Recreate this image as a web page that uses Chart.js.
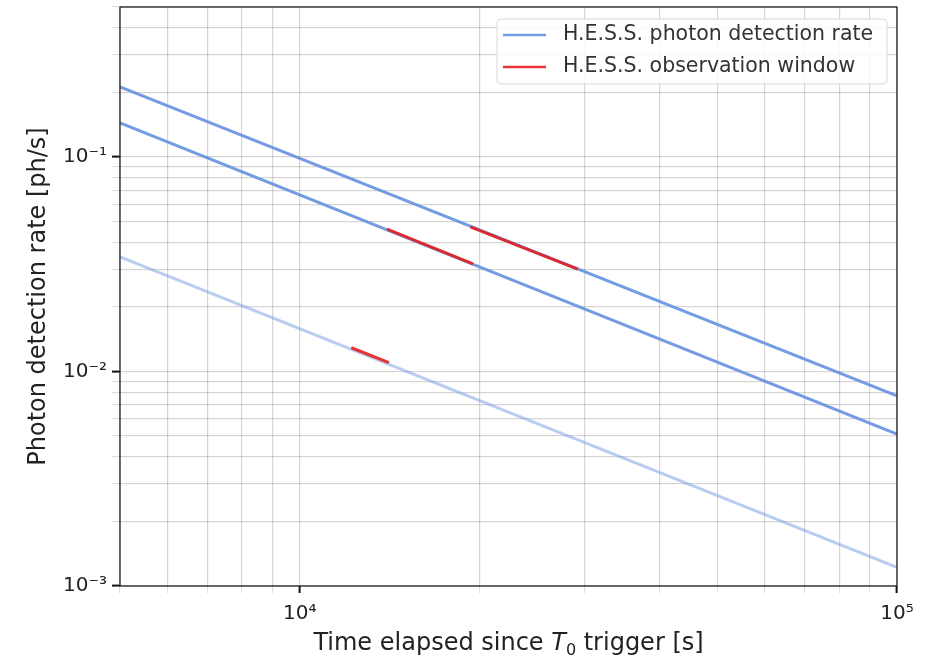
<!DOCTYPE html>
<html>
<head>
<meta charset="utf-8">
<script src="https://cdn.jsdelivr.net/npm/chart.js@4.4.1/dist/chart.umd.min.js"></script>
<style>
  html, body { margin: 0; padding: 0; background: #fff; }
  #wrap { width: 930px; height: 657px; }
</style>
</head>
<body>
<div id="wrap"><canvas id="rate"></canvas></div>
<script>
// time range of the curves [s]
const timeEdges = [5000, 100000];

// photon detection rate [ph/s] at the two edges, one per curve
const rateHigh = [0.212, 0.0077];
const rateMid = [0.144, 0.0051];
const rateLow = [0.0342, 0.00122];

// H.E.S.S. observation windows
const winHighT = [19300, 29200];
const winHighR = [0.0472, 0.0300];
const winMidT = [14000, 19500];
const winMidR = [0.0461, 0.0317];
const winLowT = [12200, 14100];
const winLowR = [0.0129, 0.0110];

// gridlines + labelled ticks
const xGrid = [5000, 6000, 7000, 8000, 9000, 10000, 20000, 30000, 40000, 50000, 60000, 70000, 80000, 90000, 100000];
const yGrid = [0.001, 0.002, 0.003, 0.004, 0.005, 0.006, 0.007, 0.008, 0.009,
               0.01, 0.02, 0.03, 0.04, 0.05, 0.06, 0.07, 0.08, 0.09, 0.1, 0.2, 0.3, 0.4, 0.5];
const xMajor = [10000, 100000];
const xLabels = ['10⁴', '10⁵'];
const yMajor = [0.001, 0.01, 0.1];
const yLabels = ['10⁻³', '10⁻²', '10⁻¹'];

const blue = 'rgba(100,145,225,0.9)';
const blueLight = 'rgba(100,145,225,0.45)';
const red = 'rgba(230,30,30,0.9)';

function pts(xs, ys) {
  return xs.map((x, i) => ({ x: x, y: ys[i] }));
}

function isMajor(list, v) {
  return list.some(m => Math.abs(m - v) / m < 1e-6);
}

const frame = {
  id: 'frame',
  afterDatasetsDraw(chart) {
    const a = chart.chartArea, c = chart.ctx;
    c.save();
    c.strokeStyle = '#222';
    c.lineWidth = 1.3;
    c.strokeRect(a.left, a.top, a.right - a.left, a.bottom - a.top);

    // legend inside the plot, top right
    const x0 = 497, y0 = 19, w = 390, h = 65;
    c.fillStyle = 'rgba(255,255,255,0.85)';
    c.strokeStyle = '#d8d8d8';
    c.lineWidth = 1;
    c.beginPath();
    c.roundRect(x0, y0, w, h, 4);
    c.fill();
    c.stroke();
    const items = [['H.E.S.S. photon detection rate', blue], ['H.E.S.S. observation window', red]];
    c.font = '20.5px "DejaVu Sans"';
    c.textBaseline = 'middle';
    items.forEach((it, i) => {
      const y = y0 + 16 + i * 32;
      c.strokeStyle = it[1];
      c.lineWidth = 2.5;
      c.beginPath();
      c.moveTo(x0 + 6, y);
      c.lineTo(x0 + 49, y);
      c.stroke();
      c.fillStyle = '#333';
      c.fillText(it[0], x0 + 66, y);
    });

    // x axis title with italic T and subscript 0
    const parts = [
      ['Time elapsed since ', '24px "DejaVu Sans"', 0],
      ['T', 'italic 24px "DejaVu Sans"', 0],
      ['0', '16px "DejaVu Sans"', 5],
      [' trigger [s]', '24px "DejaVu Sans"', 0]
    ];
    c.textBaseline = 'alphabetic';
    c.fillStyle = '#222';
    let total = 0;
    parts.forEach(p => { c.font = p[1]; total += c.measureText(p[0]).width; });
    let x = (a.left + a.right) / 2 - total / 2;
    const base = 650;
    parts.forEach(p => {
      c.font = p[1];
      c.fillText(p[0], x, base + p[2]);
      x += c.measureText(p[0]).width;
    });
    c.restore();
  }
};

function axisTicks(grid) {
  return function (scale) {
    scale.ticks = grid.map(v => ({ value: v }));
  };
}

new Chart(document.getElementById('rate'), {
  type: 'line',
  data: {
    datasets: [
      { label: 'H.E.S.S. photon detection rate', data: pts(timeEdges, rateHigh), borderColor: blue, borderWidth: 3, order: 2 },
      { label: 'rate mid', data: pts(timeEdges, rateMid), borderColor: blue, borderWidth: 3, order: 2 },
      { label: 'rate low', data: pts(timeEdges, rateLow), borderColor: blueLight, borderWidth: 3, order: 2 },
      { label: 'H.E.S.S. observation window', data: pts(winHighT, winHighR), borderColor: red, borderWidth: 3, order: 1 },
      { label: 'window mid', data: pts(winMidT, winMidR), borderColor: red, borderWidth: 3, order: 1 },
      { label: 'window low', data: pts(winLowT, winLowR), borderColor: red, borderWidth: 3, order: 1 }
    ]
  },
  options: {
    responsive: true,
    maintainAspectRatio: false,
    animation: false,
    layout: { padding: { top: 7, right: 33, left: 20, bottom: 0 } },
    elements: { point: { radius: 0 }, line: { tension: 0 } },
    plugins: {
      legend: { display: false },
      tooltip: { enabled: false }
    },
    scales: {
      x: {
        type: 'logarithmic',
        min: 5000,
        max: 100000,
        afterBuildTicks: axisTicks(xGrid),
        afterFit(scale) { scale.height = 71; scale.paddingLeft = 0; scale.paddingRight = 0; },
        border: { display: false },
        grid: {
          color: 'rgba(0,0,0,0.16)',
          lineWidth: 1.2,
          tickLength: 7,
          tickColor: ctx => isMajor(xMajor, ctx.tick.value) ? '#111' : 'rgba(0,0,0,0.15)',
          tickWidth: ctx => isMajor(xMajor, ctx.tick.value) ? 2 : 1
        },
        ticks: {
          autoSkip: false,
          maxRotation: 0,
          padding: 9,
          color: '#222',
          font: { family: 'DejaVu Sans', size: 20 },
          callback: v => {
            const i = xMajor.findIndex(m => Math.abs(m - v) / m < 1e-6);
            return i >= 0 ? xLabels[i] : '';
          }
        }
      },
      y: {
        type: 'logarithmic',
        min: 0.001,
        max: 0.5,
        afterBuildTicks: axisTicks(yGrid),
        afterFit(scale) { scale.width = 100; scale.paddingTop = 0; scale.paddingBottom = 0; },
        border: { display: false },
        grid: {
          color: 'rgba(0,0,0,0.16)',
          lineWidth: 1.2,
          tickLength: 8,
          tickColor: ctx => isMajor(yMajor, ctx.tick.value) ? '#111' : 'rgba(0,0,0,0.15)',
          tickWidth: ctx => isMajor(yMajor, ctx.tick.value) ? 2 : 1
        },
        ticks: {
          autoSkip: false,
          padding: 5,
          color: '#222',
          font: { family: 'DejaVu Sans', size: 20 },
          callback: v => {
            const i = yMajor.findIndex(m => Math.abs(m - v) / m < 1e-6);
            return i >= 0 ? yLabels[i] : '';
          }
        },
        title: {
          display: true,
          text: 'Photon detection rate [ph/s]',
          color: '#222',
          font: { family: 'DejaVu Sans', size: 24 },
          padding: { top: 4, bottom: 4 }
        }
      }
    }
  },
  plugins: [frame]
});
</script>
</body>
</html>
